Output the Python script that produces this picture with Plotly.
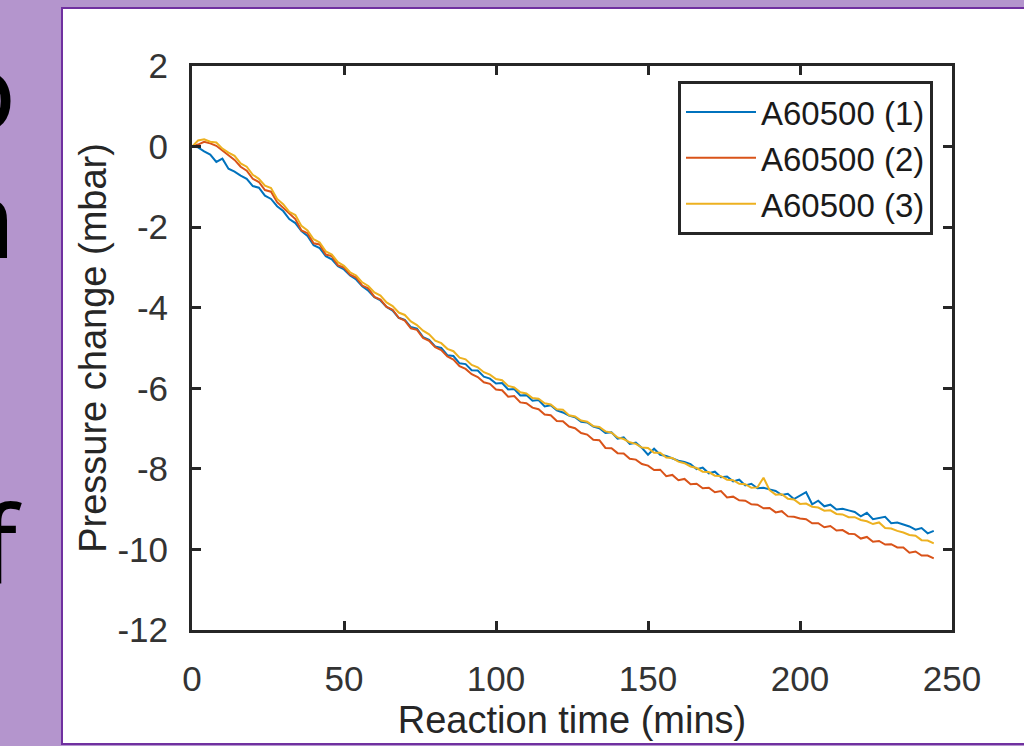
import plotly.graph_objects as go

# Reaction time grid (mins)
time_min = list(range(0, 246, 2))

series_names = ["A60500 (1)", "A60500 (2)", "A60500 (3)"]

run1 = [0.00, -0.02, -0.12, -0.20, -0.38, -0.30, -0.55, -0.62, -0.72, -0.80,
        -0.98, -1.02, -1.22, -1.30, -1.48, -1.60, -1.80, -1.90, -2.10, -2.22,
        -2.45, -2.52, -2.72, -2.80, -2.97, -3.05, -3.20, -3.30, -3.47, -3.58,
        -3.74, -3.82, -3.98, -4.07, -4.25, -4.30, -4.48, -4.52, -4.73, -4.80,
        -4.96, -5.00, -5.18, -5.20, -5.38, -5.40, -5.55, -5.56, -5.71, -5.76,
        -5.88, -5.87, -6.03, -6.02, -6.18, -6.17, -6.31, -6.29, -6.45, -6.42,
        -6.55, -6.60, -6.68, -6.72, -6.83, -6.85, -6.95, -6.99, -7.11, -7.09,
        -7.25, -7.22, -7.38, -7.35, -7.48, -7.65, -7.50, -7.65, -7.68, -7.75,
        -7.80, -7.83, -7.88, -8.01, -7.97, -8.11, -8.07, -8.21, -8.19, -8.31,
        -8.27, -8.41, -8.37, -8.48, -8.47, -8.51, -8.55, -8.65, -8.62, -8.75,
        -8.67, -8.58, -8.88, -8.79, -8.93, -8.89, -9.01, -8.99, -9.03, -9.07,
        -9.18, -9.09, -9.25, -9.22, -9.19, -9.35, -9.33, -9.38, -9.43, -9.51,
        -9.47, -9.60, -9.54]

run2 = [0.00, 0.05, 0.12, 0.08, 0.02, -0.10, -0.22, -0.33, -0.50, -0.60,
        -0.80, -0.88, -1.08, -1.12, -1.38, -1.52, -1.68, -1.80, -2.08, -2.15,
        -2.40, -2.43, -2.68, -2.72, -2.95, -3.00, -3.18, -3.25, -3.45, -3.52,
        -3.73, -3.80, -3.98, -4.05, -4.25, -4.32, -4.51, -4.55, -4.75, -4.82,
        -4.98, -5.05, -5.21, -5.29, -5.45, -5.52, -5.65, -5.72, -5.85, -5.89,
        -6.03, -6.05, -6.21, -6.19, -6.35, -6.37, -6.48, -6.52, -6.65, -6.67,
        -6.81, -6.82, -6.95, -6.99, -7.11, -7.15, -7.28, -7.29, -7.48, -7.49,
        -7.61, -7.62, -7.75, -7.77, -7.88, -7.92, -8.03, -8.02, -8.18, -8.15,
        -8.28, -8.25, -8.38, -8.37, -8.48, -8.47, -8.58, -8.55, -8.71, -8.69,
        -8.78, -8.79, -8.88, -8.89, -8.98, -8.97, -9.08, -9.05, -9.18, -9.19,
        -9.23, -9.25, -9.35, -9.35, -9.45, -9.42, -9.53, -9.52, -9.61, -9.62,
        -9.73, -9.69, -9.81, -9.79, -9.88, -9.87, -9.95, -9.95, -10.08, -10.05,
        -10.15, -10.15, -10.22]

run3 = [0.00, 0.15, 0.18, 0.12, 0.10, -0.05, -0.15, -0.23, -0.42, -0.50,
        -0.70, -0.80, -0.97, -1.03, -1.30, -1.43, -1.62, -1.70, -1.97, -2.08,
        -2.30, -2.38, -2.60, -2.68, -2.87, -2.96, -3.12, -3.20, -3.37, -3.46,
        -3.62, -3.70, -3.87, -3.96, -4.12, -4.18, -4.34, -4.43, -4.57, -4.66,
        -4.82, -4.88, -5.02, -5.08, -5.24, -5.28, -5.42, -5.48, -5.60, -5.66,
        -5.77, -5.80, -5.94, -5.98, -6.10, -6.13, -6.24, -6.26, -6.37, -6.40,
        -6.52, -6.53, -6.67, -6.70, -6.80, -6.83, -6.94, -6.96, -7.07, -7.10,
        -7.22, -7.26, -7.34, -7.38, -7.47, -7.48, -7.60, -7.60, -7.72, -7.73,
        -7.82, -7.86, -7.94, -7.98, -8.07, -8.08, -8.17, -8.18, -8.27, -8.28,
        -8.37, -8.38, -8.47, -8.46, -8.22, -8.53, -8.64, -8.63, -8.74, -8.76,
        -8.87, -8.86, -8.94, -8.96, -9.04, -9.03, -9.12, -9.13, -9.20, -9.20,
        -9.27, -9.30, -9.37, -9.33, -9.47, -9.48, -9.54, -9.58, -9.64, -9.66,
        -9.77, -9.78, -9.85]

x_ticks = [0, 50, 100, 150, 200, 250]
x_tick_text = ["0", "50", "100", "150", "200", "250"]
y_ticks = [-12, -10, -8, -6, -4, -2, 0, 2]
y_tick_text = ["-12", "-10", "-8", "-6", "-4", "-2", "0", "2"]

colors = ["#0072BD", "#D95319", "#EDB120"]
AX = "#262626"
FONT = "Liberation Sans, Arial, sans-serif"

fig = go.Figure()
for name, vals, c in zip(series_names, [run1, run2, run3], colors):
    fig.add_trace(go.Scatter(x=time_min, y=vals, mode="lines", name=name,
                             line=dict(color=c, width=2)))

# white slide panel with purple border on purple background
fig.add_shape(type="rect", xref="paper", yref="paper",
              x0=(62 - 192) / 760, x1=(1040 - 192) / 760,
              y0=(630 - 744) / 564, y1=(630 - 8) / 564,
              fillcolor="white", line=dict(color="#7030A0", width=2),
              layer="below")

# partial slide text at the far left
for txt, xr, base in [("o", 18, 164), ("n", 18, 292), ("f", 24, 618)]:
    fig.add_annotation(text=txt, xref="paper", yref="paper",
                       x=(xr - 192) / 760, y=(630 - base) / 564,
                       xanchor="right", yanchor="bottom", showarrow=False,
                       font=dict(family="Noto Sans, sans-serif", size=108, color="black"))

axis_common = dict(showline=True, linecolor=AX, linewidth=3, mirror="ticks",
                   ticks="inside", ticklen=9, tickwidth=3, tickcolor=AX,
                   showgrid=False, zeroline=False,
                   tickfont=dict(family=FONT, size=35, color="#333333"))

fig.update_xaxes(range=[0, 250], tickvals=x_ticks, ticktext=x_tick_text,
                 ticklabelstandoff=16,
                 title=dict(text="Reaction time (mins)", standoff=10,
                            font=dict(family=FONT, size=38, color=AX)),
                 **axis_common)
fig.update_yaxes(range=[-12, 2], tickvals=y_ticks, ticktext=y_tick_text,
                 ticklabelstandoff=14,
                 title=dict(text="Pressure change (mbar)", standoff=0,
                            font=dict(family=FONT, size=38, color=AX)),
                 **axis_common)

fig.update_layout(
    width=1024, height=746,
    margin=dict(l=192, r=72, t=66, b=116, autoexpand=False),
    paper_bgcolor="#B495CD", plot_bgcolor="white",
    font=dict(family=FONT, color=AX),
    legend=dict(x=(933 - 192) / 760, xanchor="right",
                y=(630 - 81) / 564, yanchor="top",
                bgcolor="white", bordercolor=AX, borderwidth=3,
                font=dict(family=FONT, size=33, color="#1a1a1a"),
                itemwidth=70, tracegroupgap=0),
    showlegend=True,
)

fig.write_html("out.html")
